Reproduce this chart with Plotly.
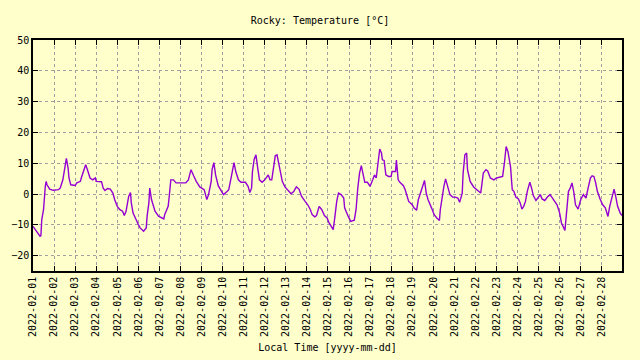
import pandas as pd
import plotly.graph_objects as go

start = "2022-02-01 00:00"
# hours since start
hours = [0, 4, 8, 9, 10, 12, 13, 14, 15, 16, 19, 23, 29, 31, 34, 36, 38, 40, 41, 43,
         48, 50, 54, 55, 58, 60, 62, 65, 68, 71, 72, 78, 80, 82, 85, 88, 91, 93, 96, 99,
         102, 104, 106, 109, 111, 112, 114, 117, 120, 122, 126, 129, 130, 132, 133, 135, 138, 139, 143, 149,
         150, 154, 155, 157, 160, 163, 169, 174, 177, 180, 183, 186, 190, 195, 198, 200, 203, 204, 206, 208,
         211, 215, 217, 221, 223, 226, 228, 229, 231, 234, 237, 242, 245, 247, 249, 250, 252, 254, 256, 258,
         261, 264, 268, 270, 272, 274, 276, 278, 280, 282, 284, 287, 291, 294, 297, 300, 303, 306, 310, 313,
         316, 318, 321, 323, 326, 329, 332, 335, 337, 340, 342, 344, 346, 348, 351, 354, 355, 359, 362, 366,
         368, 370, 372, 374, 376, 378, 381, 384, 387, 389, 391, 393, 395, 397, 398, 400, 402, 405, 408, 409,
         413, 414, 416, 418, 420, 422, 424, 426, 428, 432, 434, 437, 439, 442, 445, 446, 448, 450, 454, 457,
         460, 463, 464, 466, 468, 470, 473, 475, 478, 481, 484, 486, 489, 490, 492, 494, 495, 498, 502, 506,
         510, 511, 513, 516, 518, 521, 525, 528, 532, 535, 537, 539, 541, 544, 546, 548, 550, 553, 555, 557,
         559, 561, 563, 565, 566, 568, 570, 573, 576, 578, 580, 583, 586, 589, 591, 594, 597, 600, 602, 606,
         608, 610, 612, 614, 616, 618, 621, 624, 627, 630, 632, 635, 637, 639, 641, 643, 646, 649, 652, 655,
         657, 660, 662, 664, 666, 669, 671]
temperature = [-10.5, -12.0, -13.7, -13.5, -8.3, -5.1, -0.8, 2.5, 4.1, 3.0, 1.6, 1.2, 1.4, 1.9, 4.6, 8.4, 11.6, 8.4, 5.2, 3.0,
               2.8, 3.6, 4.1, 5.2, 7.9, 9.5, 7.9, 5.2, 4.6, 5.2, 4.1, 4.0, 1.9, 1.1, 1.8, 1.6, 0.3, -1.8, -4.0, -5.1,
               -5.6, -7.0, -5.6, -0.8, 0.5, -2.9, -6.2, -8.3, -9.9, -11.0, -12.1, -11.0, -7.2, -2.9, 1.9, -1.8, -5.1, -5.6, -7.2, -8.1,
               -6.7, -4.0, -1.3, 4.6, 4.6, 3.6, 3.6, 3.6, 4.6, 7.9, 5.9, 4.1, 2.3, 1.4, -1.8, -0.2, 4.1, 7.9, 10.2, 6.2,
               2.7, 0.8, -0.2, 0.8, 1.4, 5.7, 8.7, 10.2, 7.3, 4.6, 3.8, 3.8, 2.5, 0.5, 1.9, 7.3, 11.3, 12.7, 8.4, 4.6,
               3.8, 4.6, 6.2, 4.6, 4.6, 8.9, 12.4, 12.7, 9.5, 6.2, 4.1, 2.3, 1.1, 0.1, 0.8, 2.3, 1.6, -0.8, -2.4, -3.5,
               -5.1, -6.7, -7.4, -7.0, -4.0, -5.1, -7.0, -7.8, -9.2, -10.5, -11.6, -7.2, -2.4, 0.3, -0.2, -1.3, -4.5, -7.2, -8.9, -8.5,
               -5.1, 1.9, 6.8, 9.2, 6.8, 3.8, 3.8, 2.5, 4.6, 6.2, 5.2, 10.0, 14.6, 13.3, 11.1, 10.9, 6.2, 5.7, 5.7, 7.3,
               7.3, 11.0, 4.6, 3.8, 3.3, 2.7, 1.4, -1.0, -2.4, -3.5, -4.5, -5.3, -1.8, 0.8, 3.0, 4.4, 0.3, -1.8, -4.5, -6.7,
               -7.8, -8.6, -5.1, -0.8, 2.3, 4.9, 2.3, -0.2, -1.0, -1.0, -1.3, -2.7, 0.3, 6.8, 12.7, 13.3, 7.9, 4.1, 2.3, 1.2,
               0.3, 2.3, 6.8, 7.9, 7.5, 5.2, 4.6, 5.2, 5.5, 5.7, 10.0, 15.4, 13.8, 8.9, 1.4, 0.8, -1.0, -1.6, -2.9, -4.9,
               -4.0, -2.4, 0.8, 2.5, 3.8, 1.9, -0.5, -2.1, -0.8, -0.2, -1.6, -2.1, -1.0, -0.2, -1.0, -2.4, -3.5, -6.2, -9.4, -11.8,
               -5.1, 0.8, 1.9, 3.6, 0.8, -3.5, -4.9, -1.8, -0.2, -1.3, 1.4, 5.2, 5.9, 5.7, 3.6, 0.8, -1.6, -3.5, -4.5, -7.3,
               -4.0, -0.2, 1.6, -1.0, -4.0, -6.2, -7.0]

times = pd.Timestamp(start) + pd.to_timedelta(hours, unit="h")

title_text = "Rocky: Temperature [°C]"
x_title = "Local Time [yyyy-mm-dd]"
y_ticks = [-20, -10, 0, 10, 20, 30, 40, 50]

bg = "#ffffcc"
font = dict(family="DejaVu Sans Mono", size=10, color="black")

fig = go.Figure(go.Scatter(x=times, y=temperature, mode="lines",
                           line=dict(color="#9400d3", width=1.4), showlegend=False))

axis_common = dict(showline=True, linecolor="black", linewidth=1.5, mirror="ticks",
                   ticks="inside", ticklen=5, tickcolor="black",
                   showgrid=True, gridcolor="#a0a0a0", griddash="3px,3px", gridwidth=1,
                   zeroline=False, tickfont=font, automargin=False)

fig.update_xaxes(range=[times[0], times[-1]], dtick=86400000, tick0=start,
                 tickformat="%Y-%m-%d", tickangle=-90,
                 title=dict(text=x_title, font=font, standoff=8), **axis_common)
fig.update_yaxes(range=[-25, 50], tickvals=y_ticks, **axis_common)

fig.update_layout(width=640, height=360, paper_bgcolor=bg, plot_bgcolor=bg,
                  margin=dict(l=33, r=18, t=40, b=89, autoexpand=False),
                  title=dict(text=title_text, x=0.5, xanchor="center", y=0.944, yanchor="middle",
                             font=font),
                  font=font)

fig.write_html("out.html", config={"displayModeBar": False},
               post_script="document.body.style.margin='0';document.body.style.background='%s';" % bg)
